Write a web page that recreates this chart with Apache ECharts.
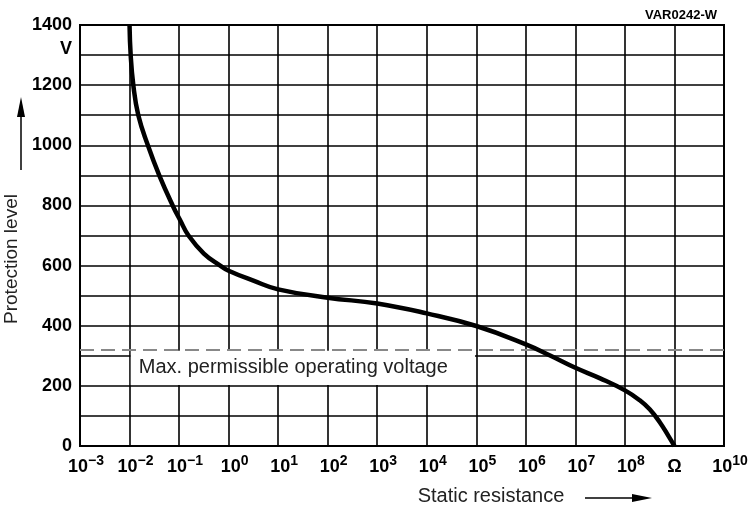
<!DOCTYPE html>
<html><head><meta charset="utf-8">
<script src="https://cdn.jsdelivr.net/npm/echarts@6/dist/echarts.min.js"></script>
<style>html,body{margin:0;padding:0;background:#fff}#c{width:749px;height:511px}</style>
</head><body><div id="c"></div>
<script>
// Curve: static resistance (as power of ten, Ω) vs protection level (V)
const resistanceExp = [-2, -1.977, -1.924, -1.823, -1.63, -1.40, -1.13, -0.975, -0.81, -0.5, -0.17, 0, 0.5, 1, 2, 3, 4, 5, 6, 6.5, 7, 7.5, 8, 8.3, 8.5, 8.7, 8.88, 9];
const protectionLevel = [1400, 1300, 1200, 1100, 1000, 900, 800, 750, 700, 640, 600, 583, 550, 521, 493, 474, 441, 399, 338, 300, 260, 225, 185, 152, 122, 80, 33, 0];

const xTickExpStart = -3;
const xTickLabels = ['10^−3','10^−2','10^−1','10^0','10^1','10^2','10^3','10^4','10^5','10^6','10^7','10^8','Ω','10^10'];
const yTickLabels = ['0','','200','','400','','600','','800','','1000','','1200','V','1400'];

const maxOperatingVoltage = 320;
const noteText = 'Max. permissible operating voltage';
const noteBoxX = [0.0106, 94000];
const noteBoxY = [203, 317];

const chart = echarts.init(document.getElementById('c'), null, {renderer: 'canvas'});
const FONT = '"Liberation Sans", Arial, Helvetica, sans-serif';

chart.setOption({
  animation: false,
  backgroundColor: '#fff',
  title: {
    text: 'VAR0242-W', right: 27, top: 4,
    textStyle: {fontFamily: FONT, fontSize: 13, fontWeight: 'bold', color: '#000'}
  },
  grid: {left: 80, right: 25, top: 25, bottom: 65, containLabel: false, outerBoundsMode: 'none',
    show: true, borderColor: '#000', borderWidth: 2, backgroundColor: 'transparent'},
  xAxis: {
    type: 'log', logBase: 10, min: 0.001, max: 1e10, interval: 1, splitNumber: 13,
    name: 'Static resistance', nameLocation: 'middle', nameGap: 40,
    nameTextStyle: {fontFamily: FONT, fontSize: 20, color: '#222', padding: [0, 0, 0, 178]},
    axisLine: {show: true, lineStyle: {color: '#000', width: 2}},
    axisTick: {show: false},
    splitLine: {show: true, lineStyle: {color: '#000', width: 1.6}},
    minorTick: {show: false}, minorSplitLine: {show: false},
    axisLabel: {
      show: true, margin: 8, showMinLabel: true, showMaxLabel: true, hideOverlap: false,
      fontFamily: FONT, color: '#000',
      formatter: function (v) {
        const e = Math.round(Math.log10(v));
        const t = xTickLabels[e - xTickExpStart];
        if (t === undefined) return '';
        const p = t.split('^');
        if (p.length === 1) return '{b|' + p[0] + '}';
        return '{g| }{b|' + p[0] + '}{s|' + p[1] + '}';
      },
      rich: {
        b: {fontFamily: FONT, fontSize: 18, fontWeight: 'bold', color: '#000', lineHeight: 22, verticalAlign: 'bottom'},
        s: {fontFamily: FONT, fontSize: 14, fontWeight: 'bold', color: '#000', lineHeight: 14, verticalAlign: 'top'},
        g: {fontFamily: FONT, fontSize: 14, color: 'rgba(0,0,0,0)', lineHeight: 14, width: 12}
      }
    }
  },
  yAxis: {
    type: 'value', min: 0, max: 1400, interval: 100,
    name: 'Protection level', nameLocation: 'middle', nameGap: 42, nameRotate: 90,
    nameTextStyle: {fontFamily: FONT, fontSize: 19, color: '#222', padding: [0, 47, 0, 0]},
    axisLine: {show: true, lineStyle: {color: '#000', width: 2}},
    axisTick: {show: false},
    splitLine: {show: true, lineStyle: {color: '#000', width: 1.6}},
    axisLabel: {
      show: true, margin: 8, showMinLabel: true, showMaxLabel: true, hideOverlap: false,
      fontFamily: FONT, fontSize: 18, fontWeight: 'bold', color: '#000',
      formatter: function (v) {
        const t = yTickLabels[Math.round(v / 100)];
        if (!t) return '';
        return t === 'V' ? '{v|V}' : t;
      },
      rich: {v: {fontFamily: FONT, fontSize: 18, fontWeight: 'bold', color: '#000', padding: [0, 0, 12, 0]}}
    }
  },
  graphic: [
    {type: 'line', shape: {x1: 21, y1: 170, x2: 21, y2: 112}, style: {stroke: '#000', lineWidth: 1.5}},
    {type: 'polygon', shape: {points: [[21, 97], [17, 117], [25, 117]]}, style: {fill: '#000'}},
    {type: 'line', shape: {x1: 585, y1: 498, x2: 640, y2: 498}, style: {stroke: '#000', lineWidth: 1.5}},
    {type: 'polygon', shape: {points: [[652, 498], [632, 494], [632, 502]]}, style: {fill: '#000'}}
  ],
  series: [{
    type: 'line',
    data: resistanceExp.map((e, i) => [Math.pow(10, e), protectionLevel[i]]),
    smooth: 0.45, showSymbol: false, clip: true, z: 5,
    lineStyle: {color: '#000', width: 4.5},
    markLine: {
      silent: true, symbol: 'none', label: {show: false},
      lineStyle: {type: [14, 7], color: '#888', width: 2},
      data: [{yAxis: maxOperatingVoltage}]
    },
    markArea: {
      silent: true, itemStyle: {color: '#fff'},
      label: {show: true, position: 'insideLeft', distance: 8, fontFamily: FONT, fontSize: 20, color: '#222'},
      data: [[{name: noteText, xAxis: noteBoxX[0], yAxis: noteBoxY[0]}, {xAxis: noteBoxX[1], yAxis: noteBoxY[1]}]]
    }
  }]
});
</script></body></html>
